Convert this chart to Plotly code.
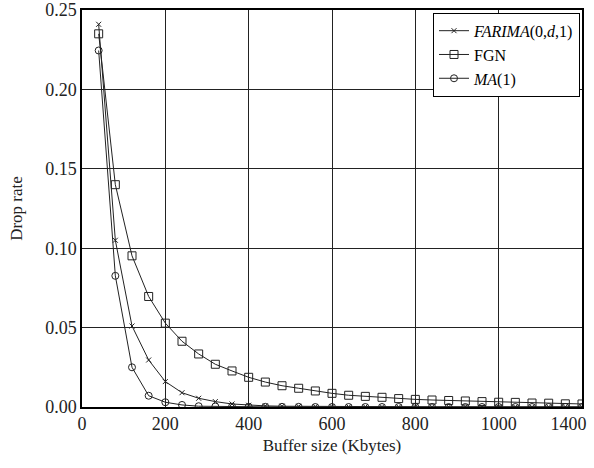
import plotly.graph_objects as go

buffer_kb = [40, 80, 120, 160, 200, 240, 280, 320, 360, 400, 440, 480, 520, 560, 600,
             640, 680, 720, 760, 800, 840, 880, 920, 960, 1000, 1040, 1080, 1120, 1160, 1200]

farima = [0.241, 0.105, 0.051, 0.0296, 0.016, 0.009, 0.0055, 0.0034, 0.0019, 0.0011,
          0.0007, 0.0005, 0.0004, 0.0003, 0.0003, 0.0002, 0.0002, 0.0002, 0.0001, 0.0001,
          0.0001, 0.0001, 0.0001, 0.0001, 0.0001, 0.0001, 0.0001, 0.0001, 0.0001, 0.0001]

fgn = [0.235, 0.140, 0.0952, 0.0696, 0.0528, 0.0414, 0.0334, 0.0269, 0.0227, 0.0187,
       0.0157, 0.0134, 0.0118, 0.0101, 0.0086, 0.0074, 0.0067, 0.0061, 0.0053, 0.0048,
       0.0044, 0.0041, 0.0038, 0.0034, 0.0030, 0.0029, 0.0025, 0.0024, 0.0020, 0.0019]

ma1 = [0.2245, 0.0826, 0.025, 0.0071, 0.003, 0.0013, 0.0005, 0.0003, 0.0002, 0.0001,
       0.0001, 0.0001, 0.0001, 0.0, 0.0, 0.0, 0.0, 0.0, 0.0, 0.0,
       0.0, 0.0, 0.0, 0.0, 0.0, 0.0, 0.0, 0.0, 0.0, 0.0]

x_tick_vals = [0, 200, 400, 600, 800, 1000, 1200]
x_tick_text = ["0", "200", "400", "600", "800", "1000", "1400" + "\u00a0" * 6]
y_tick_vals = [0.0, 0.05, 0.10, 0.15, 0.20, 0.25]
y_tick_text = ["0.00", "0.05", "0.10", "0.15", "0.20", "0.25"]

FONT = "Liberation Serif, Times New Roman, serif"
INK = "#222222"

fig = go.Figure()
fig.add_trace(go.Scatter(
    x=buffer_kb, y=farima, mode="lines+markers", name="<i>FARIMA</i>(0,<i>d</i>,1)",
    line=dict(color=INK, width=1),
    marker=dict(symbol="x-thin-open", size=5, color=INK, line=dict(width=1, color=INK))))
fig.add_trace(go.Scatter(
    x=buffer_kb, y=fgn, mode="lines+markers", name="FGN",
    line=dict(color=INK, width=1),
    marker=dict(symbol="square-open", size=8, color=INK, line=dict(width=1, color=INK))))
fig.add_trace(go.Scatter(
    x=buffer_kb, y=ma1, mode="lines+markers", name="<i>MA</i>(1)",
    line=dict(color=INK, width=1),
    marker=dict(symbol="circle-open", size=7, color=INK, line=dict(width=1, color=INK))))

fig.update_layout(
    width=594, height=468,
    margin=dict(l=82, r=12, t=10, b=61),
    paper_bgcolor="white", plot_bgcolor="white",
    font=dict(family=FONT, size=18, color=INK),
    showlegend=True,
    legend=dict(x=0.996, y=0.993, xanchor="right", yanchor="top",
                bgcolor="white", bordercolor="black", borderwidth=1,
                font=dict(family=FONT, size=16, color="black"),
                tracegroupgap=0, itemwidth=30),
    xaxis=dict(range=[0, 1200], tickvals=x_tick_vals, ticktext=x_tick_text,
               showgrid=True, gridcolor=INK, gridwidth=1,
               showline=True, linecolor="black", linewidth=1.5, mirror=True,
               ticks="", zeroline=False, automargin=False, ticklabeloverflow="allow",
               title=dict(text="Buffer size (Kbytes)", font=dict(size=17), standoff=6)),
    yaxis=dict(range=[0, 0.25], tickvals=y_tick_vals, ticktext=y_tick_text,
               showgrid=True, gridcolor=INK, gridwidth=1,
               showline=True, linecolor="black", linewidth=1.5, mirror=True,
               ticks="", zeroline=False, automargin=False,
               title=dict(text="Drop rate", font=dict(size=17), standoff=18)),
)

fig.write_html("out.html", config={"displayModeBar": False},
               post_script="document.body.style.margin='0';document.body.style.overflow='hidden';")
